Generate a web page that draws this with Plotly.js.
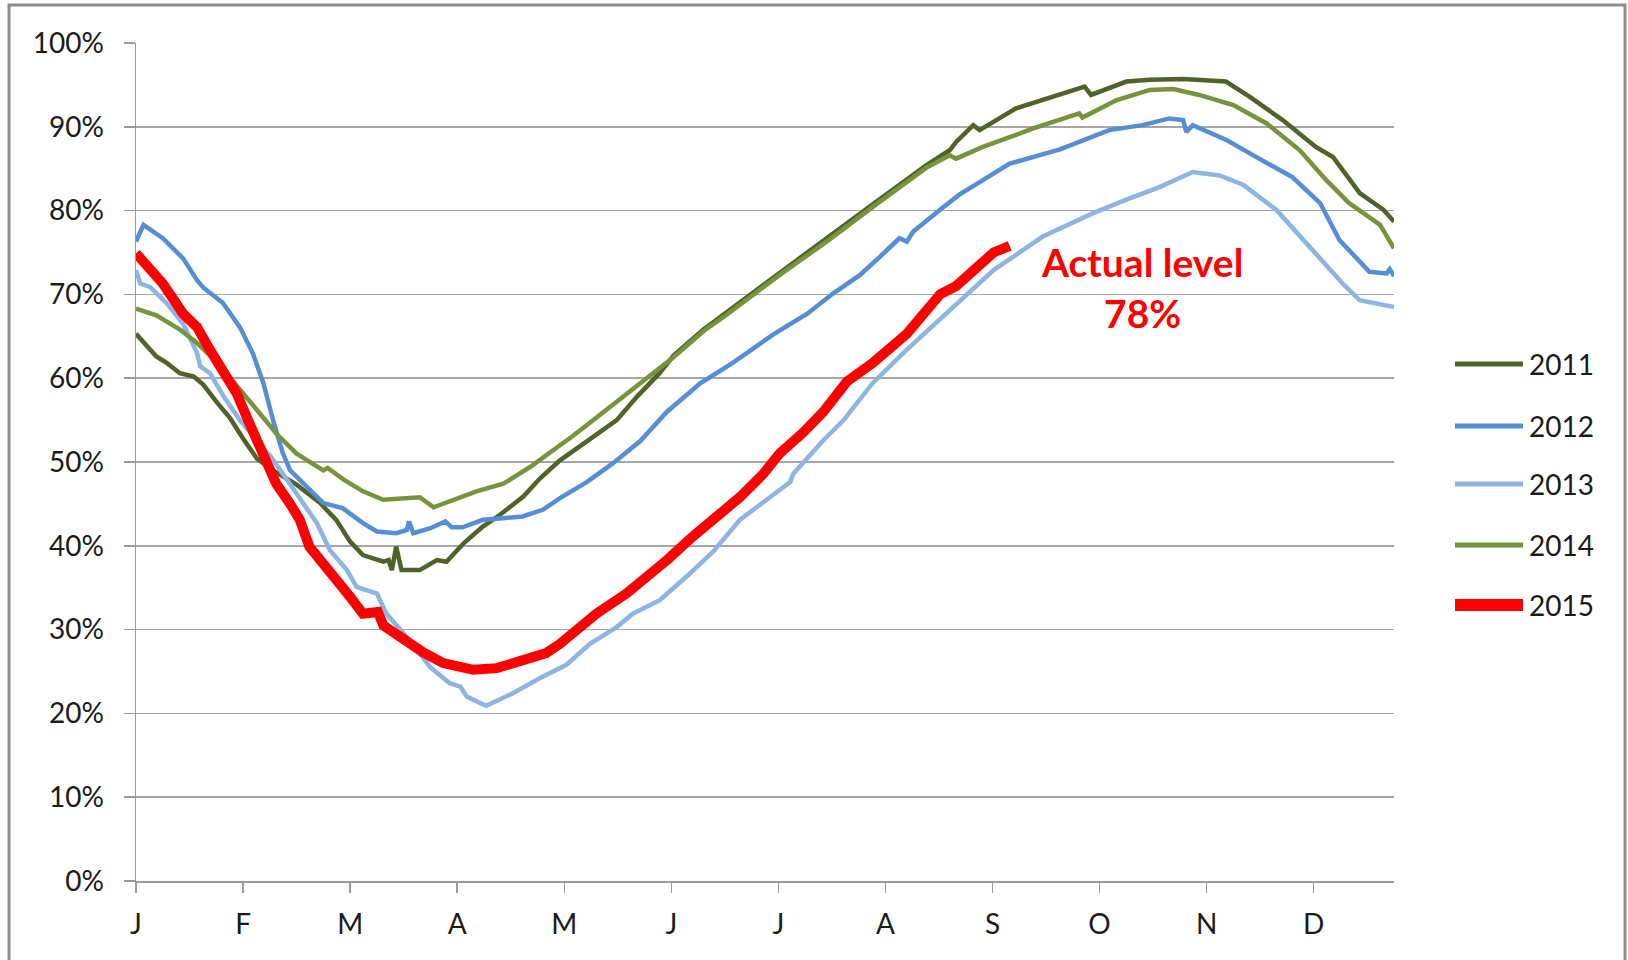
<!DOCTYPE html>
<html>
<head>
<meta charset="utf-8">
<script src="https://cdn.plot.ly/plotly-3.0.1.min.js"></script>
<style>html,body{margin:0;padding:0;background:#fff;}#chart{width:1628px;height:960px;}</style>
</head>
<body>
<div id="chart"></div>
<script>
// x positions are in months since 1 January (0 = J, 1 = F, ...)
const monthLabels = ['J','F','M','A','M','J','J','A','S','O','N','D'];
const monthTicks = [0,1,2,3,4,5,6,7,8,9,10,11];
const seriesNames = ['2011','2012','2013','2014','2015'];

const x2011 = [0.00,0.19,0.29,0.41,0.54,0.63,0.75,0.88,1.00,1.13,1.28,1.50,1.72,1.87,2.00,2.12,2.31,2.36,2.39,2.43,2.48,2.65,2.81,2.90,3.06,3.24,3.40,3.62,3.77,3.96,4.27,4.49,4.68,4.89,5.02,5.30,5.52,6.01,6.45,6.92,7.38,7.60,7.66,7.82,7.88,8.22,8.53,8.86,8.92,9.25,9.47,9.78,10.18,10.40,10.71,11.02,11.18,11.43,11.65,11.75];
const v2011 = [65.3,62.6,61.8,60.6,60.2,59.2,57.2,55.2,52.8,50.4,49.0,47.3,45.1,43.1,40.5,38.9,38.1,38.3,37.1,39.9,37.1,37.1,38.3,38.1,40.3,42.3,43.7,45.9,48.0,50.2,53.0,55.0,57.8,60.6,62.7,65.8,67.9,72.6,76.7,81.1,85.4,87.2,88.2,90.2,89.6,92.2,93.4,94.8,93.8,95.4,95.6,95.7,95.4,93.6,90.8,87.6,86.4,82.1,80.1,78.7];

const x2012 = [0.00,0.07,0.25,0.44,0.57,0.63,0.81,0.97,1.09,1.19,1.28,1.37,1.44,1.56,1.75,1.93,2.12,2.25,2.43,2.53,2.55,2.59,2.75,2.89,2.95,3.05,3.24,3.43,3.61,3.80,3.96,4.21,4.45,4.71,4.96,5.27,5.57,5.95,6.27,6.51,6.76,6.95,7.13,7.20,7.26,7.51,7.69,7.88,8.16,8.63,9.09,9.40,9.65,9.78,9.81,9.87,10.19,10.49,10.80,11.06,11.24,11.52,11.68,11.71,11.75];
const v2012 = [76.3,78.3,76.7,74.3,71.7,70.8,69.0,66.1,63.0,59.4,55.0,51.1,49.0,47.5,45.1,44.5,42.7,41.7,41.5,41.9,42.9,41.5,42.1,42.9,42.2,42.2,43.1,43.3,43.5,44.3,45.7,47.6,49.8,52.5,56.0,59.4,61.8,65.2,67.7,70.1,72.3,74.5,76.7,76.3,77.5,80.1,81.9,83.4,85.6,87.3,89.6,90.2,91.0,90.8,89.4,90.2,88.4,86.2,84.0,80.9,76.5,72.7,72.5,73.0,72.2];

const x2013 = [0.00,0.04,0.13,0.29,0.44,0.57,0.60,0.69,0.82,0.97,1.13,1.25,1.41,1.53,1.69,1.81,1.97,2.06,2.25,2.34,2.53,2.75,2.93,3.03,3.09,3.27,3.52,3.77,4.02,4.24,4.49,4.64,4.89,5.14,5.39,5.64,5.89,6.11,6.14,6.42,6.61,6.88,7.20,7.57,7.88,8.01,8.47,8.94,9.25,9.56,9.87,10.12,10.34,10.65,10.96,11.27,11.43,11.75];
const v2013 = [72.9,71.3,70.9,68.9,66.5,63.0,61.4,60.6,57.8,55.0,52.6,50.8,47.9,45.6,42.7,39.5,37.1,35.1,34.3,31.9,29.1,25.5,23.6,23.2,22.0,20.9,22.4,24.2,25.8,28.3,30.3,31.9,33.5,36.3,39.3,43.1,45.5,47.6,48.6,52.6,55.0,59.4,63.4,67.7,71.3,72.9,76.9,79.7,81.3,82.8,84.6,84.2,83.1,80.1,75.7,71.3,69.3,68.5];

const x2014 = [0.00,0.19,0.41,0.57,0.75,0.94,1.13,1.31,1.50,1.75,1.79,1.94,2.12,2.31,2.43,2.65,2.78,2.93,3.18,3.43,3.68,3.96,4.08,4.43,4.80,5.02,5.30,5.52,6.01,6.45,6.92,7.38,7.60,7.66,7.91,8.16,8.38,8.81,8.84,9.16,9.47,9.69,9.93,10.25,10.56,10.87,11.12,11.33,11.62,11.75];
const v2014 = [68.3,67.5,65.8,64.2,62.0,59.0,56.2,53.4,51.0,49.0,49.3,47.9,46.5,45.5,45.6,45.8,44.6,45.3,46.5,47.4,49.4,52.0,53.1,56.6,60.2,62.5,65.6,67.6,72.3,76.3,80.8,85.1,86.6,86.2,87.6,88.8,89.8,91.6,91.1,93.2,94.4,94.5,93.8,92.6,90.4,87.2,83.6,80.9,78.3,75.5];

const x2015 = [0.00,0.25,0.44,0.57,0.69,0.82,0.94,1.06,1.19,1.31,1.44,1.53,1.62,1.81,2.00,2.12,2.26,2.31,2.53,2.68,2.87,3.15,3.37,3.62,3.83,3.96,4.08,4.30,4.58,4.74,4.96,5.20,5.42,5.64,5.86,6.01,6.23,6.42,6.64,6.88,7.20,7.35,7.51,7.66,7.88,8.01,8.16];
const v2015 = [74.9,71.3,67.7,66.1,63.4,60.6,58.2,54.6,50.8,47.4,45.0,43.1,39.9,37.1,33.9,31.9,32.1,30.5,28.5,27.3,26.0,25.2,25.4,26.4,27.2,28.3,29.6,31.9,34.3,35.9,38.3,41.1,43.5,45.8,48.6,51.0,53.5,56.0,59.6,61.8,65.3,67.8,70.0,71.0,73.7,75.0,75.8];

const seriesX = [x2011, x2012, x2013, x2014, x2015];
const seriesV = [v2011, v2012, v2013, v2014, v2015];
const colors = ['#4F6228','#558ED5','#8EB4E3','#77933C','#FF0000'];
const widths = [4.5, 4.5, 4.5, 4.5, 10];

const annotationText = 'Actual level<br>78%';

const traces = seriesNames.map((n, i) => ({
  type: 'scatter', mode: 'lines', name: n,
  x: seriesX[i], y: seriesV[i],
  line: {color: colors[i], width: widths[i], shape: 'linear'},
  showlegend: false, hoverinfo: 'skip'
}));

// plot area in pixels: x 136..1394, y 43..881
const L = 136, R = 1394, T = 43, B = 881;
const px = v => (v - L) / (R - L);
const py = v => (B - v) / (B - T);

const legendY = [364, 426, 484, 545, 605];
const shapes = [];
const annotations = [];
seriesNames.forEach((n, i) => {
  shapes.push({type:'line', xref:'paper', yref:'paper',
    x0: px(1455), x1: px(1523), y0: py(legendY[i]), y1: py(legendY[i]),
    line:{color: colors[i], width: i === 4 ? 12 : 5}});
  annotations.push({xref:'paper', yref:'paper', x: px(1527), y: py(legendY[i]),
    xanchor:'left', yanchor:'middle', showarrow:false, text: n,
    font:{family:'Lato, sans-serif', size:28, color:'#1a1a1a'}});
});
// chart border
shapes.push({type:'path', xref:'paper', yref:'paper',
  path: `M ${px(9)},${py(985)} L ${px(9)},${py(5)} L ${px(1625)},${py(5)} L ${px(1625)},${py(985)}`,
  line:{color:'#8c8c8c', width:3}});

annotations.push({xref:'paper', yref:'paper', x: px(1142), y: py(287),
  xanchor:'center', yanchor:'middle', showarrow:false, text: annotationText,
  font:{family:'Lato, sans-serif', size:39, color:'#FF0000', weight:'bold'}});

const layout = {
  width: 1628, height: 960,
  margin: {l: L, r: 1628 - R, t: T, b: 960 - B},
  paper_bgcolor: '#ffffff', plot_bgcolor: '#ffffff',
  showlegend: false,
  font: {family: 'Lato, sans-serif', size: 28, color: '#262626'},
  xaxis: {
    range: [0, 11.75], tickvals: monthTicks, ticktext: monthLabels,
    showgrid: false, zeroline: false, showline: true, linecolor: '#9a9a9a', linewidth: 1.5,
    ticks: 'outside', ticklen: 10, tickwidth: 1.5, tickcolor: '#9a9a9a',
    ticklabelstandoff: 8,
    tickfont: {family:'Lato, sans-serif', size: 28, color:'#1a1a1a'}, fixedrange: true
  },
  yaxis: {
    range: [0, 100], dtick: 10, tick0: 0, ticksuffix: '%',
    showgrid: true, gridcolor: '#a6a6a6', gridwidth: 1.5,
    zeroline: false, showline: true, linecolor: '#9a9a9a', linewidth: 1.5,
    ticks: 'outside', ticklen: 11, tickwidth: 1.5, tickcolor: '#9a9a9a',
    ticklabelstandoff: 14,
    tickfont: {family:'Lato, sans-serif', size: 28, color:'#1a1a1a'}, fixedrange: true
  },
  shapes: shapes,
  annotations: annotations
};

Plotly.newPlot('chart', traces, layout, {displayModeBar: false, staticPlot: true});
</script>
</body>
</html>
